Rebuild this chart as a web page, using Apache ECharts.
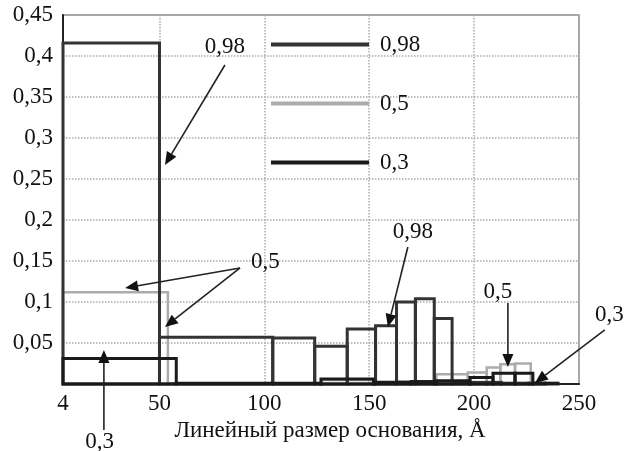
<!DOCTYPE html>
<html><head><meta charset="utf-8">
<script src="https://cdn.jsdelivr.net/npm/echarts@6/dist/echarts.min.js"></script>
<style>html,body{margin:0;padding:0;background:#fff}#c{width:626px;height:451px}</style>
</head><body><div id="c"></div>
<script>
// ---- data ----
const xTicks = [4, 50, 100, 150, 200, 250];
const seriesNames = ['0,98', '0,5', '0,3'];
const axisTitle = 'Линейный размер основания, Å';

// series 0,98 : bin edges and heights
const edges98 = [4, 50, 104, 124, 139.5, 153, 163, 172, 181, 189.5, 198, 206, 213, 219.5, 226, 234];
const values98 = [0.416, 0.057, 0.056, 0.046, 0.067, 0.071, 0.100, 0.104, 0.080, 0.002, 0.002, 0.002, 0.001, 0.001, 0.001];

// series 0,5
const edges5 = [4, 54, 104, 127, 152, 163, 172, 182, 197, 206, 212.5, 219.5, 227];
const values5 = [0.112, 0.001, 0.001, 0.005, 0.002, 0.003, 0.003, 0.012, 0.014, 0.020, 0.024, 0.025];

// series 0,3
const edges3 = [4, 58, 127, 152, 170, 182, 198, 209, 219.5, 228, 240];
const values3 = [0.031, 0.001, 0.006, 0.002, 0.003, 0.004, 0.008, 0.013, 0.013, 0.001];

// annotations (data coordinates)
const annoArrows = [
  [[81.2, 0.389], [52.6, 0.267]],
  [[88.4, 0.1415], [33.6, 0.117]],
  [[88.4, 0.1415], [52.6, 0.0695]],
  [[23.5, -0.056], [23.5, 0.0415]],
  [[168.4, 0.167], [158.9, 0.0695]],
  [[216.1, 0.0988], [216.1, 0.0207]],
  [[262.3, 0.0659], [229.0, 0.0012]]
];
const annoTexts = [
  ['0,98', [81.2, 0.411]],
  ['0,5', [100.5, 0.149]],
  ['0,3', [21.5, -0.071]],
  ['0,98', [170.8, 0.185]],
  ['0,5', [211.3, 0.112]],
  ['0,3', [264.5, 0.084]]
];

// ---- chart ----
function bins(edges, values) { return values.map((v, i) => [edges[i], edges[i + 1], v]); }
const FONT = '"Liberation Serif", "Times New Roman", serif';
const FS = 23;
const chart = echarts.init(document.getElementById('c'), null, { renderer: 'canvas' });

function boxRenderer(lw) {
  return function (params, api) {
    const x0 = api.value(0), x1 = api.value(1), h = api.value(2);
    const p0 = api.coord([x0, 0]);
    const p1 = api.coord([x1, h]);
    return {
      type: 'rect',
      shape: { x: p0[0], y: p1[1], width: p1[0] - p0[0], height: p0[1] - p1[1] },
      style: { fill: 'none', stroke: api.visual('color'), lineWidth: lw }
    };
  };
}

function fmtY(v) {
  if (v === 0) return '';
  return String(+v.toFixed(2)).replace('.', ',');
}

chart.setOption({
  animation: false,
  backgroundColor: '#fff',
  grid: { left: 63, right: 47, top: 15, bottom: 67, show: true, borderColor: '#8a8a8a', borderWidth: 1.5 },
  legend: {
    orient: 'vertical', left: 271, top: 33, padding: 0, itemWidth: 98, itemHeight: 4, itemGap: 36,
    selectedMode: false,
    data: seriesNames.map(n => ({ name: n, icon: 'rect' })),
    textStyle: { fontFamily: FONT, fontSize: FS, color: '#111', padding: [0, 0, 0, 6] }
  },
  xAxis: {
    type: 'value', min: 4, max: 250,
    axisLine: { show: true, onZero: false, lineStyle: { color: '#222', width: 2 } },
    axisTick: { show: false, customValues: xTicks },
    axisLabel: { customValues: xTicks, fontFamily: FONT, fontSize: FS, color: '#111', margin: 8 },
    splitLine: { show: true, lineStyle: { type: 'dotted', color: '#aaa', width: 1.5 } },
    name: axisTitle, nameLocation: 'middle', nameGap: 31,
    nameTextStyle: { fontFamily: FONT, fontSize: FS, color: '#111', padding: [0, 0, 0, 18] }
  },
  yAxis: {
    type: 'value', min: 0, max: 0.45, interval: 0.05,
    axisLine: { show: true, lineStyle: { color: '#222', width: 2 } },
    axisTick: { show: false },
    axisLabel: { formatter: fmtY, fontFamily: FONT, fontSize: FS, color: '#111', margin: 10 },
    splitLine: { show: true, lineStyle: { type: 'dotted', color: '#aaa', width: 1.5 } }
  },
  series: [
    { name: seriesNames[1], type: 'custom', renderItem: boxRenderer(2.5), itemStyle: { color: '#acacac' },
      encode: { x: [0, 1], y: 2 }, data: bins(edges5, values5), z: 2 },
    { name: seriesNames[0], type: 'custom', renderItem: boxRenderer(3), itemStyle: { color: '#333' },
      encode: { x: [0, 1], y: 2 }, data: bins(edges98, values98), z: 3 },
    { name: seriesNames[2], type: 'custom', renderItem: boxRenderer(3), itemStyle: { color: '#1a1a1a' },
      encode: { x: [0, 1], y: 2 }, data: bins(edges3, values3), z: 4 }
  ]
});

// annotations placed through the axis scales
const gfx = [];
annoArrows.forEach(([a, b]) => {
  const p0 = chart.convertToPixel({ gridIndex: 0 }, a);
  const p1 = chart.convertToPixel({ gridIndex: 0 }, b);
  const dx = p1[0] - p0[0], dy = p1[1] - p0[1];
  const L = Math.hypot(dx, dy), ux = dx / L, uy = dy / L;
  const hl = 13, hw = 5.5;
  const bx = p1[0] - ux * hl, by = p1[1] - uy * hl;
  gfx.push({ type: 'line', z: 100, shape: { x1: p0[0], y1: p0[1], x2: bx, y2: by },
    style: { stroke: '#222', lineWidth: 1.6 } });
  gfx.push({ type: 'polygon', z: 100, shape: { points: [[p1[0], p1[1]], [bx - uy * hw, by + ux * hw], [bx + uy * hw, by - ux * hw]] },
    style: { fill: '#111' } });
});
annoTexts.forEach(([t, p]) => {
  const q = chart.convertToPixel({ gridIndex: 0 }, p);
  gfx.push({ type: 'text', z: 100, x: q[0], y: q[1],
    style: { text: t, fill: '#111', font: FS + 'px ' + FONT, align: 'center', verticalAlign: 'middle' } });
});
chart.setOption({ graphic: gfx });
</script>
</body></html>
